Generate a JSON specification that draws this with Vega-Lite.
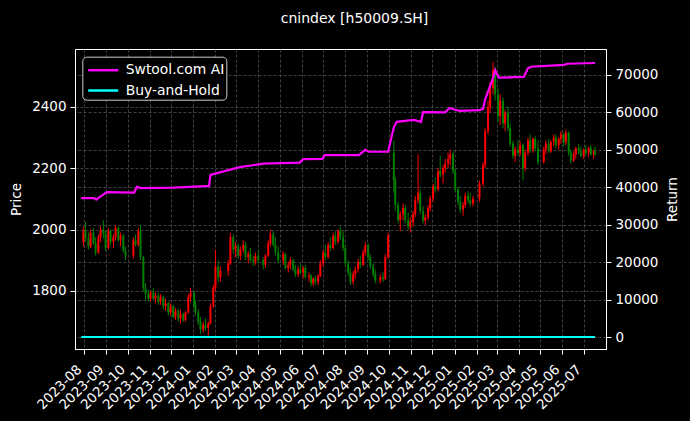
{
  "$schema": "https://vega.github.io/schema/vega-lite/v6.json",
  "autosize": "none",
  "width": 531,
  "height": 300,
  "padding": {"left": 75, "top": 49, "right": 84, "bottom": 72},
  "background": "#000000",
  "title": {"text": "cnindex [h50009.SH]", "color": "white", "fontSize": 14, "font": "DejaVu Sans", "fontWeight": "normal", "anchor": "middle", "baseline": "alphabetic", "offset": 12, "dx": 14},
  "config": {
    "font": "DejaVu Sans",
    "view": {"stroke": "white", "strokeWidth": 1},
    "axis": {
      "domainColor": "white", "tickColor": "white", "tickSize": 5, "labelPadding": 4, "labelColor": "white", "labelFontSize": 13.5, "labelFont": "DejaVu Sans",
      "titleColor": "white", "titleFontSize": 13.5, "titleFont": "DejaVu Sans", "titleFontWeight": "normal",
      "gridColor": "#5a5a5a", "gridDash": [3, 2], "gridWidth": 0.7
    },
    "axisX": {"labelOverlap": false, "labelBound": false},
    "legend": {
      "orient": "none", "legendX": 7.3, "legendY": 7.7, "fillColor": "#000000", "strokeColor": "#cccccc", "cornerRadius": 4, "padding": 2,
      "labelColor": "white", "labelFontSize": 13.9, "labelFont": "DejaVu Sans", "symbolType": "M-1.5,0H1.5", "symbolSize": 400, "symbolStrokeWidth": 2.5, "symbolOffset": 7.4, "labelOffset": 11, "rowPadding": 1.3, "title": null
    }
  },
  "datasets": {
    "px": [
      {"t":"2023-07-31","o":1960,"h":2010,"l":1945,"c":1995},
      {"t":"2023-08-03","o":1995,"h":2025,"l":1960,"c":1970},
      {"t":"2023-08-07","o":1970,"h":1990,"l":1935,"c":1945},
      {"t":"2023-08-10","o":1945,"h":2000,"l":1940,"c":1990},
      {"t":"2023-08-14","o":1990,"h":2005,"l":1950,"c":1955},
      {"t":"2023-08-17","o":1955,"h":1975,"l":1915,"c":1925},
      {"t":"2023-08-21","o":1925,"h":1985,"l":1920,"c":1975},
      {"t":"2023-08-24","o":1975,"h":2010,"l":1960,"c":2000},
      {"t":"2023-08-28","o":2000,"h":2030,"l":1970,"c":1985},
      {"t":"2023-08-31","o":1985,"h":1995,"l":1930,"c":1940},
      {"t":"2023-09-04","o":1940,"h":2005,"l":1935,"c":1995},
      {"t":"2023-09-07","o":1995,"h":2000,"l":1950,"c":1960},
      {"t":"2023-09-11","o":1960,"h":1985,"l":1940,"c":1975},
      {"t":"2023-09-14","o":1975,"h":2015,"l":1965,"c":2005},
      {"t":"2023-09-18","o":2005,"h":2010,"l":1960,"c":1965},
      {"t":"2023-09-21","o":1965,"h":1990,"l":1945,"c":1980},
      {"t":"2023-09-25","o":1980,"h":1985,"l":1925,"c":1930},
      {"t":"2023-09-28","o":1930,"h":1945,"l":1900,"c":1915},
      {"t":"2023-10-09","o":1915,"h":1975,"l":1905,"c":1965},
      {"t":"2023-10-12","o":1965,"h":1985,"l":1945,"c":1950},
      {"t":"2023-10-16","o":1950,"h":2005,"l":1945,"c":1995},
      {"t":"2023-10-19","o":1995,"h":2015,"l":1900,"c":1910},
      {"t":"2023-10-23","o":1910,"h":1915,"l":1800,"c":1810},
      {"t":"2023-10-26","o":1810,"h":1825,"l":1770,"c":1790},
      {"t":"2023-10-30","o":1790,"h":1805,"l":1765,"c":1775},
      {"t":"2023-11-02","o":1775,"h":1800,"l":1765,"c":1795},
      {"t":"2023-11-06","o":1795,"h":1810,"l":1770,"c":1775},
      {"t":"2023-11-09","o":1775,"h":1795,"l":1760,"c":1785},
      {"t":"2023-11-13","o":1785,"h":1795,"l":1755,"c":1765},
      {"t":"2023-11-16","o":1765,"h":1790,"l":1755,"c":1780},
      {"t":"2023-11-20","o":1780,"h":1785,"l":1740,"c":1750},
      {"t":"2023-11-23","o":1750,"h":1775,"l":1735,"c":1760},
      {"t":"2023-11-27","o":1760,"h":1765,"l":1720,"c":1730},
      {"t":"2023-11-30","o":1730,"h":1760,"l":1720,"c":1750},
      {"t":"2023-12-04","o":1750,"h":1755,"l":1710,"c":1715},
      {"t":"2023-12-07","o":1715,"h":1745,"l":1705,"c":1735},
      {"t":"2023-12-11","o":1735,"h":1740,"l":1700,"c":1710},
      {"t":"2023-12-14","o":1710,"h":1740,"l":1695,"c":1725},
      {"t":"2023-12-18","o":1725,"h":1730,"l":1700,"c":1705},
      {"t":"2023-12-21","o":1705,"h":1735,"l":1700,"c":1730},
      {"t":"2023-12-25","o":1730,"h":1790,"l":1725,"c":1780},
      {"t":"2023-12-28","o":1780,"h":1810,"l":1765,"c":1795},
      {"t":"2024-01-02","o":1795,"h":1800,"l":1745,"c":1755},
      {"t":"2024-01-04","o":1755,"h":1770,"l":1720,"c":1730},
      {"t":"2024-01-08","o":1730,"h":1740,"l":1690,"c":1700},
      {"t":"2024-01-11","o":1700,"h":1715,"l":1660,"c":1675},
      {"t":"2024-01-15","o":1675,"h":1700,"l":1665,"c":1690},
      {"t":"2024-01-18","o":1690,"h":1710,"l":1670,"c":1680},
      {"t":"2024-01-22","o":1680,"h":1700,"l":1655,"c":1695},
      {"t":"2024-01-25","o":1695,"h":1760,"l":1690,"c":1750},
      {"t":"2024-01-29","o":1750,"h":1820,"l":1745,"c":1810},
      {"t":"2024-02-01","o":1810,"h":1935,"l":1800,"c":1880},
      {"t":"2024-02-05","o":1880,"h":1900,"l":1830,"c":1845},
      {"t":"2024-02-08","o":1845,"h":1880,"l":1830,"c":1865},
      {"t":"2024-02-19","o":1865,"h":1900,"l":1850,"c":1890},
      {"t":"2024-02-22","o":1890,"h":1990,"l":1885,"c":1975},
      {"t":"2024-02-26","o":1975,"h":1985,"l":1920,"c":1935},
      {"t":"2024-02-29","o":1935,"h":1960,"l":1910,"c":1945},
      {"t":"2024-03-04","o":1945,"h":1955,"l":1905,"c":1915},
      {"t":"2024-03-07","o":1915,"h":1945,"l":1900,"c":1935},
      {"t":"2024-03-11","o":1935,"h":1965,"l":1925,"c":1950},
      {"t":"2024-03-14","o":1950,"h":1960,"l":1900,"c":1910},
      {"t":"2024-03-18","o":1910,"h":1930,"l":1890,"c":1920},
      {"t":"2024-03-21","o":1920,"h":1940,"l":1895,"c":1900},
      {"t":"2024-03-25","o":1900,"h":1915,"l":1880,"c":1895},
      {"t":"2024-03-28","o":1895,"h":1925,"l":1885,"c":1915},
      {"t":"2024-04-01","o":1915,"h":1930,"l":1890,"c":1900},
      {"t":"2024-04-08","o":1900,"h":1910,"l":1870,"c":1885},
      {"t":"2024-04-11","o":1885,"h":1920,"l":1875,"c":1915},
      {"t":"2024-04-15","o":1915,"h":1965,"l":1910,"c":1955},
      {"t":"2024-04-18","o":1955,"h":2000,"l":1945,"c":1985},
      {"t":"2024-04-22","o":1985,"h":1995,"l":1945,"c":1950},
      {"t":"2024-04-25","o":1950,"h":1975,"l":1915,"c":1925},
      {"t":"2024-04-29","o":1925,"h":1945,"l":1890,"c":1900},
      {"t":"2024-05-06","o":1900,"h":1930,"l":1885,"c":1920},
      {"t":"2024-05-09","o":1920,"h":1925,"l":1870,"c":1875},
      {"t":"2024-05-13","o":1875,"h":1895,"l":1860,"c":1885},
      {"t":"2024-05-16","o":1885,"h":1910,"l":1870,"c":1900},
      {"t":"2024-05-20","o":1900,"h":1905,"l":1865,"c":1870},
      {"t":"2024-05-23","o":1870,"h":1885,"l":1845,"c":1855},
      {"t":"2024-05-27","o":1855,"h":1880,"l":1845,"c":1870},
      {"t":"2024-05-30","o":1870,"h":1890,"l":1855,"c":1860},
      {"t":"2024-06-03","o":1860,"h":1880,"l":1840,"c":1875},
      {"t":"2024-06-06","o":1875,"h":1885,"l":1840,"c":1845},
      {"t":"2024-06-11","o":1845,"h":1860,"l":1830,"c":1850},
      {"t":"2024-06-14","o":1850,"h":1855,"l":1815,"c":1825},
      {"t":"2024-06-17","o":1825,"h":1845,"l":1815,"c":1840},
      {"t":"2024-06-20","o":1840,"h":1850,"l":1820,"c":1830},
      {"t":"2024-06-24","o":1830,"h":1855,"l":1820,"c":1850},
      {"t":"2024-06-27","o":1850,"h":1900,"l":1845,"c":1890},
      {"t":"2024-07-01","o":1890,"h":1935,"l":1880,"c":1925},
      {"t":"2024-07-04","o":1925,"h":1950,"l":1900,"c":1910},
      {"t":"2024-07-08","o":1910,"h":1960,"l":1905,"c":1950},
      {"t":"2024-07-11","o":1950,"h":1975,"l":1930,"c":1940},
      {"t":"2024-07-15","o":1940,"h":1990,"l":1935,"c":1980},
      {"t":"2024-07-18","o":1980,"h":1995,"l":1950,"c":1960},
      {"t":"2024-07-22","o":1960,"h":2000,"l":1955,"c":1995},
      {"t":"2024-07-25","o":1995,"h":2010,"l":1965,"c":1975},
      {"t":"2024-07-29","o":1975,"h":1995,"l":1930,"c":1940},
      {"t":"2024-08-01","o":1940,"h":1950,"l":1880,"c":1890},
      {"t":"2024-08-05","o":1890,"h":1900,"l":1850,"c":1860},
      {"t":"2024-08-08","o":1860,"h":1875,"l":1820,"c":1830},
      {"t":"2024-08-12","o":1830,"h":1865,"l":1820,"c":1855},
      {"t":"2024-08-15","o":1855,"h":1880,"l":1840,"c":1870},
      {"t":"2024-08-19","o":1870,"h":1905,"l":1860,"c":1895},
      {"t":"2024-08-22","o":1895,"h":1915,"l":1875,"c":1885},
      {"t":"2024-08-26","o":1885,"h":1935,"l":1880,"c":1925},
      {"t":"2024-08-29","o":1925,"h":1960,"l":1915,"c":1950},
      {"t":"2024-09-02","o":1950,"h":1955,"l":1900,"c":1910},
      {"t":"2024-09-05","o":1910,"h":1920,"l":1870,"c":1880},
      {"t":"2024-09-09","o":1880,"h":1890,"l":1845,"c":1855},
      {"t":"2024-09-12","o":1855,"h":1870,"l":1825,"c":1835},
      {"t":"2024-09-19","o":1835,"h":1855,"l":1825,"c":1845},
      {"t":"2024-09-23","o":1845,"h":1860,"l":1830,"c":1840},
      {"t":"2024-09-26","o":1840,"h":1920,"l":1835,"c":1910},
      {"t":"2024-09-30","o":1910,"h":1990,"l":1905,"c":1980},
      {"t":"2024-10-08","o":2250,"h":2290,"l":2120,"c":2160},
      {"t":"2024-10-10","o":2160,"h":2170,"l":2060,"c":2080},
      {"t":"2024-10-14","o":2080,"h":2090,"l":2020,"c":2030},
      {"t":"2024-10-17","o":2030,"h":2060,"l":1995,"c":2050},
      {"t":"2024-10-21","o":2050,"h":2085,"l":2030,"c":2070},
      {"t":"2024-10-24","o":2070,"h":2080,"l":2020,"c":2030},
      {"t":"2024-10-28","o":2030,"h":2055,"l":2000,"c":2010},
      {"t":"2024-10-31","o":2010,"h":2040,"l":1990,"c":2025},
      {"t":"2024-11-04","o":2025,"h":2060,"l":2010,"c":2050},
      {"t":"2024-11-07","o":2050,"h":2110,"l":2040,"c":2095},
      {"t":"2024-11-11","o":2095,"h":2245,"l":2085,"c":2120},
      {"t":"2024-11-14","o":2120,"h":2130,"l":2050,"c":2060},
      {"t":"2024-11-18","o":2060,"h":2075,"l":2020,"c":2030},
      {"t":"2024-11-21","o":2030,"h":2050,"l":2015,"c":2040},
      {"t":"2024-11-25","o":2040,"h":2080,"l":2030,"c":2070},
      {"t":"2024-11-28","o":2070,"h":2110,"l":2060,"c":2100},
      {"t":"2024-12-02","o":2100,"h":2150,"l":2090,"c":2140},
      {"t":"2024-12-05","o":2140,"h":2170,"l":2120,"c":2130},
      {"t":"2024-12-09","o":2130,"h":2200,"l":2125,"c":2190},
      {"t":"2024-12-12","o":2190,"h":2240,"l":2170,"c":2180},
      {"t":"2024-12-16","o":2180,"h":2210,"l":2150,"c":2200},
      {"t":"2024-12-19","o":2200,"h":2230,"l":2185,"c":2215},
      {"t":"2024-12-23","o":2215,"h":2250,"l":2200,"c":2230},
      {"t":"2024-12-26","o":2230,"h":2260,"l":2210,"c":2245},
      {"t":"2024-12-30","o":2245,"h":2255,"l":2180,"c":2190},
      {"t":"2025-01-02","o":2190,"h":2200,"l":2120,"c":2130},
      {"t":"2025-01-06","o":2130,"h":2140,"l":2080,"c":2090},
      {"t":"2025-01-09","o":2090,"h":2110,"l":2055,"c":2065},
      {"t":"2025-01-13","o":2065,"h":2090,"l":2045,"c":2080},
      {"t":"2025-01-16","o":2080,"h":2120,"l":2070,"c":2110},
      {"t":"2025-01-20","o":2110,"h":2125,"l":2085,"c":2095},
      {"t":"2025-01-23","o":2095,"h":2120,"l":2075,"c":2085},
      {"t":"2025-01-27","o":2085,"h":2110,"l":2075,"c":2100},
      {"t":"2025-02-05","o":2100,"h":2160,"l":2090,"c":2150},
      {"t":"2025-02-10","o":2150,"h":2220,"l":2140,"c":2210},
      {"t":"2025-02-13","o":2210,"h":2330,"l":2200,"c":2320},
      {"t":"2025-02-17","o":2320,"h":2420,"l":2310,"c":2400},
      {"t":"2025-02-20","o":2400,"h":2480,"l":2380,"c":2460},
      {"t":"2025-02-24","o":2460,"h":2545,"l":2440,"c":2520},
      {"t":"2025-02-27","o":2520,"h":2530,"l":2420,"c":2440},
      {"t":"2025-03-03","o":2440,"h":2460,"l":2350,"c":2370},
      {"t":"2025-03-06","o":2370,"h":2440,"l":2340,"c":2420},
      {"t":"2025-03-10","o":2420,"h":2430,"l":2330,"c":2345},
      {"t":"2025-03-13","o":2345,"h":2390,"l":2320,"c":2380},
      {"t":"2025-03-17","o":2380,"h":2400,"l":2320,"c":2330},
      {"t":"2025-03-20","o":2330,"h":2345,"l":2270,"c":2280},
      {"t":"2025-03-24","o":2280,"h":2290,"l":2230,"c":2240},
      {"t":"2025-03-27","o":2240,"h":2270,"l":2220,"c":2260},
      {"t":"2025-03-31","o":2260,"h":2290,"l":2240,"c":2250},
      {"t":"2025-04-03","o":2250,"h":2285,"l":2240,"c":2275},
      {"t":"2025-04-07","o":2275,"h":2280,"l":2160,"c":2200},
      {"t":"2025-04-10","o":2200,"h":2260,"l":2190,"c":2250},
      {"t":"2025-04-14","o":2250,"h":2300,"l":2240,"c":2290},
      {"t":"2025-04-17","o":2290,"h":2310,"l":2250,"c":2260},
      {"t":"2025-04-21","o":2260,"h":2300,"l":2250,"c":2295},
      {"t":"2025-04-24","o":2295,"h":2305,"l":2255,"c":2265},
      {"t":"2025-04-28","o":2265,"h":2290,"l":2210,"c":2220},
      {"t":"2025-05-06","o":2220,"h":2270,"l":2215,"c":2260},
      {"t":"2025-05-09","o":2260,"h":2290,"l":2245,"c":2280},
      {"t":"2025-05-13","o":2280,"h":2295,"l":2250,"c":2255},
      {"t":"2025-05-16","o":2255,"h":2290,"l":2250,"c":2285},
      {"t":"2025-05-20","o":2285,"h":2310,"l":2270,"c":2300},
      {"t":"2025-05-23","o":2300,"h":2310,"l":2265,"c":2275},
      {"t":"2025-05-27","o":2275,"h":2300,"l":2260,"c":2295},
      {"t":"2025-05-30","o":2295,"h":2320,"l":2280,"c":2310},
      {"t":"2025-06-03","o":2310,"h":2315,"l":2270,"c":2285},
      {"t":"2025-06-06","o":2285,"h":2325,"l":2275,"c":2315},
      {"t":"2025-06-10","o":2315,"h":2320,"l":2240,"c":2250},
      {"t":"2025-06-13","o":2250,"h":2260,"l":2215,"c":2225},
      {"t":"2025-06-17","o":2225,"h":2255,"l":2220,"c":2245},
      {"t":"2025-06-20","o":2245,"h":2270,"l":2230,"c":2265},
      {"t":"2025-06-24","o":2265,"h":2280,"l":2245,"c":2255},
      {"t":"2025-06-27","o":2255,"h":2270,"l":2235,"c":2240},
      {"t":"2025-07-01","o":2240,"h":2265,"l":2230,"c":2260},
      {"t":"2025-07-04","o":2260,"h":2275,"l":2240,"c":2250},
      {"t":"2025-07-08","o":2250,"h":2270,"l":2235,"c":2265},
      {"t":"2025-07-11","o":2265,"h":2275,"l":2240,"c":2245},
      {"t":"2025-07-15","o":2245,"h":2260,"l":2230,"c":2255},
      {"t":"2025-07-17","o":2255,"h":2270,"l":2240,"c":2245}
    ],
    "ret": [
      {"t":"2023-07-28","s":"Swtool.com AI","v":37100},
      {"t":"2023-08-15","s":"Swtool.com AI","v":37100},
      {"t":"2023-08-18","s":"Swtool.com AI","v":36700},
      {"t":"2023-08-22","s":"Swtool.com AI","v":37300},
      {"t":"2023-09-02","s":"Swtool.com AI","v":38700},
      {"t":"2023-10-10","s":"Swtool.com AI","v":38600},
      {"t":"2023-10-14","s":"Swtool.com AI","v":40100},
      {"t":"2023-10-20","s":"Swtool.com AI","v":39800},
      {"t":"2023-12-04","s":"Swtool.com AI","v":39900},
      {"t":"2024-01-19","s":"Swtool.com AI","v":40300},
      {"t":"2024-01-23","s":"Swtool.com AI","v":40300},
      {"t":"2024-01-25","s":"Swtool.com AI","v":43300},
      {"t":"2024-03-06","s":"Swtool.com AI","v":45400},
      {"t":"2024-04-08","s":"Swtool.com AI","v":46300},
      {"t":"2024-05-29","s":"Swtool.com AI","v":46600},
      {"t":"2024-06-03","s":"Swtool.com AI","v":47500},
      {"t":"2024-06-30","s":"Swtool.com AI","v":47600},
      {"t":"2024-07-03","s":"Swtool.com AI","v":48600},
      {"t":"2024-08-20","s":"Swtool.com AI","v":48600},
      {"t":"2024-08-29","s":"Swtool.com AI","v":50000},
      {"t":"2024-09-03","s":"Swtool.com AI","v":49500},
      {"t":"2024-09-30","s":"Swtool.com AI","v":49500},
      {"t":"2024-10-08","s":"Swtool.com AI","v":56100},
      {"t":"2024-10-12","s":"Swtool.com AI","v":57500},
      {"t":"2024-11-05","s":"Swtool.com AI","v":58000},
      {"t":"2024-11-15","s":"Swtool.com AI","v":57500},
      {"t":"2024-11-18","s":"Swtool.com AI","v":60100},
      {"t":"2024-12-19","s":"Swtool.com AI","v":60000},
      {"t":"2024-12-25","s":"Swtool.com AI","v":61200},
      {"t":"2025-01-08","s":"Swtool.com AI","v":60400},
      {"t":"2025-02-05","s":"Swtool.com AI","v":60600},
      {"t":"2025-02-10","s":"Swtool.com AI","v":61000},
      {"t":"2025-02-13","s":"Swtool.com AI","v":63500},
      {"t":"2025-02-24","s":"Swtool.com AI","v":69200},
      {"t":"2025-02-27","s":"Swtool.com AI","v":71300},
      {"t":"2025-03-04","s":"Swtool.com AI","v":69300},
      {"t":"2025-04-08","s":"Swtool.com AI","v":69500},
      {"t":"2025-04-14","s":"Swtool.com AI","v":71800},
      {"t":"2025-04-18","s":"Swtool.com AI","v":72200},
      {"t":"2025-06-03","s":"Swtool.com AI","v":72700},
      {"t":"2025-06-09","s":"Swtool.com AI","v":73000},
      {"t":"2025-07-17","s":"Swtool.com AI","v":73200},
      {"t":"2023-07-28","s":"Buy-and-Hold","v":0},
      {"t":"2024-01-25","s":"Buy-and-Hold","v":0},
      {"t":"2024-07-25","s":"Buy-and-Hold","v":0},
      {"t":"2025-01-25","s":"Buy-and-Hold","v":0},
      {"t":"2025-07-17","s":"Buy-and-Hold","v":0}
    ]
  },
  "encoding": {
    "x": {"field": "t", "type": "temporal",
      "scale": {"type": "utc", "domain": [{"year": 2023, "month": 7, "date": 26, "hours": 5, "utc": true}, {"year": 2025, "month": 7, "date": 25, "hours": 7, "utc": true}]},
      "axis": {"title": null, "format": "%Y-%m", "labelOverlap": false, "labelAngle": -45, "labelAlign": "right", "labelBaseline": "bottom", "grid": true, "labelPadding": 18, "labelDx": -4,
        "values": [
          {"year": 2023, "month": 8, "date": 1, "utc": true}, {"year": 2023, "month": 9, "date": 1, "utc": true}, {"year": 2023, "month": 10, "date": 1, "utc": true}, {"year": 2023, "month": 11, "date": 1, "utc": true}, {"year": 2023, "month": 12, "date": 1, "utc": true},
          {"year": 2024, "month": 1, "date": 1, "utc": true}, {"year": 2024, "month": 2, "date": 1, "utc": true}, {"year": 2024, "month": 3, "date": 1, "utc": true}, {"year": 2024, "month": 4, "date": 1, "utc": true}, {"year": 2024, "month": 5, "date": 1, "utc": true}, {"year": 2024, "month": 6, "date": 1, "utc": true},
          {"year": 2024, "month": 7, "date": 1, "utc": true}, {"year": 2024, "month": 8, "date": 1, "utc": true}, {"year": 2024, "month": 9, "date": 1, "utc": true}, {"year": 2024, "month": 10, "date": 1, "utc": true}, {"year": 2024, "month": 11, "date": 1, "utc": true}, {"year": 2024, "month": 12, "date": 1, "utc": true},
          {"year": 2025, "month": 1, "date": 1, "utc": true}, {"year": 2025, "month": 2, "date": 1, "utc": true}, {"year": 2025, "month": 3, "date": 1, "utc": true}, {"year": 2025, "month": 4, "date": 1, "utc": true}, {"year": 2025, "month": 5, "date": 1, "utc": true}, {"year": 2025, "month": 6, "date": 1, "utc": true}, {"year": 2025, "month": 7, "date": 1, "utc": true}
        ]}}
  },
  "layer": [
    {
      "data": {"name": "px"},
      "encoding": {
        "color": {"condition": {"test": "datum.c >= datum.o", "value": "#ff0000"}, "value": "#008000"}
      },
      "layer": [
        {"mark": {"type": "rule", "strokeWidth": 1},
         "encoding": {
           "y": {"field": "l", "type": "quantitative", "scale": {"domain": [1611, 2588], "nice": false, "zero": false},
             "axis": {"title": "Price", "orient": "left", "values": [1800, 2000, 2200, 2400], "format": "d", "grid": true, "titleX": -59, "titleY": 150, "titleAngle": -90, "titleBaseline": "middle", "titleAlign": "center"}},
           "y2": {"field": "h"}}},
        {"mark": {"type": "bar", "size": 2},
         "encoding": {
           "y": {"field": "o", "type": "quantitative"},
           "y2": {"field": "c"}}}
      ]
    },
    {
      "data": {"name": "ret"},
      "mark": {"type": "line", "strokeWidth": 2.2},
      "encoding": {
        "y": {"field": "v", "type": "quantitative", "scale": {"domain": [-3206, 76946], "nice": false, "zero": false},
          "axis": {"title": "Return", "orient": "right", "values": [0, 10000, 20000, 30000, 40000, 50000, 60000, 70000], "format": "d", "grid": true, "titleX": 66, "titleY": 150, "titleAngle": -90, "titleBaseline": "middle", "titleAlign": "center"}},
        "color": {"field": "s", "type": "nominal", "scale": {"domain": ["Swtool.com AI", "Buy-and-Hold"], "range": ["#ff00ff", "#00ffff"]}, "legend": {"title": null}}
      }
    }
  ],
  "resolve": {"scale": {"y": "independent"}}
}
